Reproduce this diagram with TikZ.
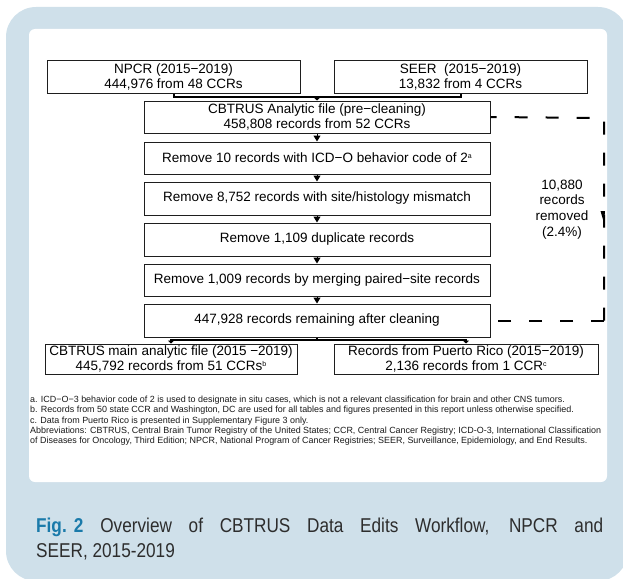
\documentclass[tikz,border=0pt]{standalone}
\usepackage{fontspec}
\setmainfont{Liberation Sans}
\newfontfamily\capfont[FakeStretch=0.86]{Liberation Sans}
\usetikzlibrary{arrows.meta,calc}
\definecolor{frameblue}{RGB}{207,224,234}
\definecolor{figblue}{RGB}{26,122,170}
\definecolor{captext}{RGB}{45,45,45}
\definecolor{boxline}{RGB}{30,30,30}
\newcommand{\supr}[1]{\raisebox{0.55ex}{\fontsize{7}{7}\selectfont #1}}
\begin{document}
\begin{tikzpicture}[x=1pt,y=-1pt,
  box/.style={draw=boxline, line width=1pt, align=center, inner sep=0pt,
    font=\fontsize{13.5}{15}\selectfont},
  conn/.style={draw=black, line width=2pt},
  steparrow/.style={draw=black, line width=1pt, -{Triangle[width=7pt,length=6pt]}},
  dashline/.style={draw=black, line width=2pt, dash pattern=on 13pt off 18pt},
  note/.style={inner sep=0pt, align=left, text=black!90, font=\fontsize{8.95}{10.45}\selectfont},
  captionstyle/.style={inner sep=0pt, text=captext, font=\capfont\fontsize{20}{25}\selectfont}]
\useasboundingbox (0,0) rectangle (623,578);
% background frame
\fill[frameblue, rounded corners=30pt] (6,7) rectangle (628,581);
\fill[white, rounded corners=6pt] (29,29) rectangle (607,482);

% top boxes
\node[box, minimum width=253pt, minimum height=33pt] (npcr) at (173.5,77) {NPCR (2015−2019)\\444,976 from 48 CCRs};
\node[box, minimum width=253pt, minimum height=33pt] (seer) at (460.5,77) {SEER\ \ (2015−2019)\\13,832 from 4 CCRs};
\node[box, minimum width=346pt, minimum height=32pt] (ana) at (317,117) {CBTRUS Analytic file (pre−cleaning)\\458,808 records from 52 CCRs};
\node[box, minimum width=346pt, minimum height=32pt] (r1) at (317,158) {Remove 10 records with ICD−O behavior code of 2\supr{a}};
\node[box, minimum width=346pt, minimum height=33pt] (r2) at (317,198.5) {Remove 8,752 records with site/histology mismatch};
\node[box, minimum width=346pt, minimum height=33pt] (r3) at (317,239.5) {Remove 1,109 duplicate records};
\node[box, minimum width=346pt, minimum height=32pt] (r4) at (317,280) {Remove 1,009 records by merging paired−site records};
\node[box, minimum width=346pt, minimum height=33pt] (rem) at (317,320.5) {447,928 records remaining after cleaning};
\node[box, minimum width=252pt, minimum height=30pt] (main) at (171,359) {CBTRUS main analytic file (2015 −2019)\\445,792 records from 51 CCRs\supr{b}};
\node[box, minimum width=264pt, minimum height=30pt] (pr) at (466,359) {Records from Puerto Rico (2015−2019)\\2,136 records from 1 CCR\supr{c}};

% top connector
\coordinate (jt) at (317,97);
\draw[conn] (npcr.south) |- (jt) -| (seer.south);
\draw[conn, line width=1.2pt, -{Triangle[width=6pt,length=3pt]}] (jt) -- (ana.north);

% step arrows
\draw[steparrow] (ana) -- (r1);
\draw[steparrow] (r1) -- (r2);
\draw[steparrow] (r2) -- (r3);
\draw[steparrow] (r3) -- (r4);
\draw[steparrow] (r4) -- (rem);

% bottom connector
\coordinate (jb) at (317,340);
\draw[conn] (rem.south) -- (jb);
\draw[conn, -{Triangle[width=6pt,length=3pt]}] (jb) -| (main.north);
\draw[conn, -{Triangle[width=6pt,length=3pt]}] (jb) -| (pr.north);

% removed bracket
\coordinate (cTR) at (604,118);
\coordinate (cBR) at (604,320.5);
\draw[dashline] (cBR) -- (rem.east);
\draw[dashline] (cBR) -- (cTR) -- (ana.east);
\fill[black] (600.5,211) -- (605,211) -- (604,223) -- cycle;
\node[inner sep=0pt, align=center, font=\fontsize{13.5}{15.8}\selectfont] (lbl) at (562,209.5) {10,880\\records\\removed\\(2.4\%)};

% footnotes
\node[note, anchor=north west] (fn) at (30,395.5) {a. ICD−O−3 behavior code of 2 is used to designate in situ cases, which is not a relevant classification for brain and other CNS tumors.\\
b. Records from 50 state CCR and Washington, DC are used for all tables and figures presented in this report unless otherwise specified.\\
c. Data from Puerto Rico is presented in Supplementary Figure 3 only.\\
Abbreviations: CBTRUS, Central Brain Tumor Registry of the United States; CCR, Central Cancer Registry; ICD-O-3, International Classification\\
of Diseases for Oncology, Third Edition; NPCR, National Program of Cancer Registries; SEER, Surveillance, Epidemiology, and End Results.};

% caption
\node[captionstyle, anchor=base west] (cap1) at (36,532) {\makebox[567pt][s]{\textcolor{figblue}{\bfseries Fig.\kern7pt 2}\kern17pt Overview of CBTRUS Data Edits Workflow, NPCR and}};
\node[captionstyle, anchor=base west] (cap2) at (36,557) {SEER, 2015-2019};
\end{tikzpicture}
\end{document}
